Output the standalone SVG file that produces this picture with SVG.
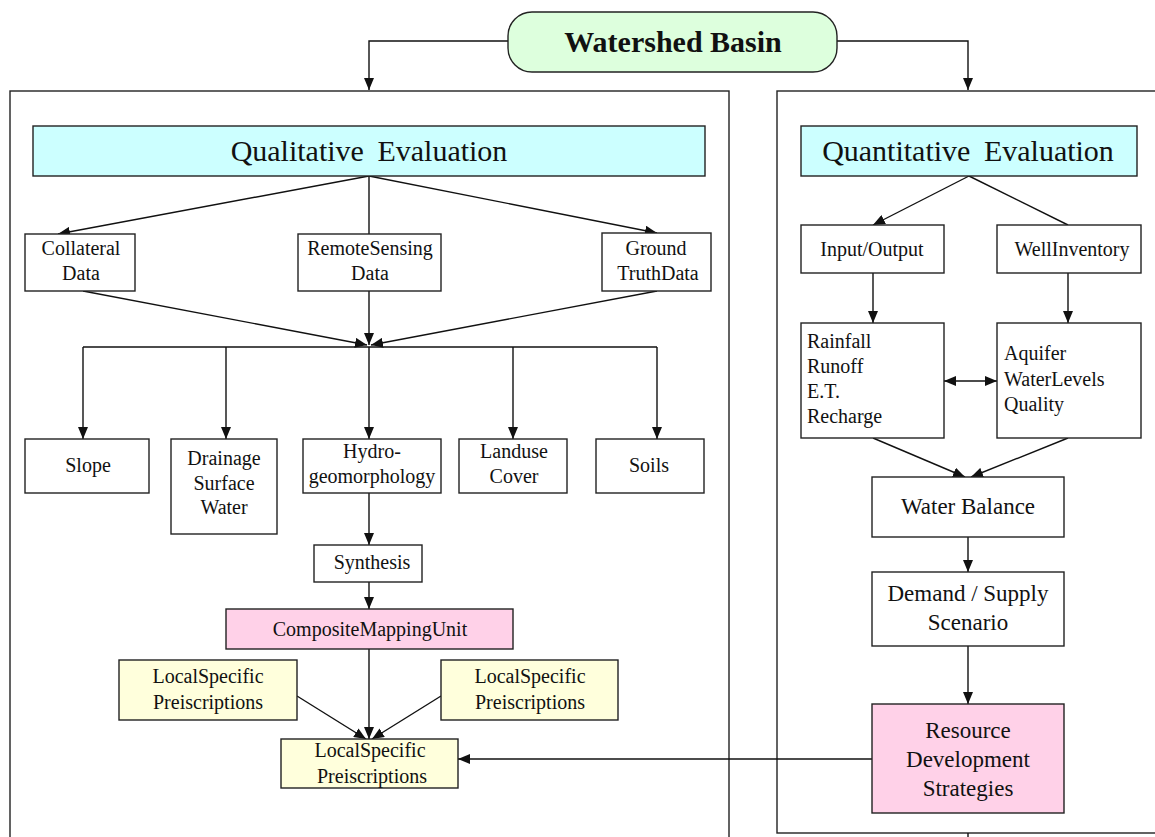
<svg xmlns="http://www.w3.org/2000/svg" width="1155" height="837" viewBox="0 0 1155 837">
<defs>
<marker id="ah" viewBox="0 0 12 10" refX="12" refY="5" markerWidth="12" markerHeight="10" orient="auto-start-reverse" markerUnits="userSpaceOnUse"><path d="M0,0 L12,5 L0,10 z" fill="#111"/></marker>
<style>
rect,path.shape{stroke:#222;stroke-width:1.4}
.box{fill:#fff}
.cyan{fill:#ccffff}
.pink{fill:#ffd1e8}
.yel{fill:#ffffdc}
.panel{fill:none}
text{font-family:"Liberation Serif","Times New Roman",serif;fill:#111}
.t20{font-size:20px;text-anchor:middle}
.t22{font-size:23px;text-anchor:middle}
.tl{font-size:20px;text-anchor:start}
.big{font-size:30px;text-anchor:middle;word-spacing:6px}
#conn path{fill:none;stroke:#111;stroke-width:1.4}
</style>
</defs>
<rect width="1155" height="837" fill="#fff" style="stroke:none"/>
<g id="panels">
<rect class="panel" x="10" y="91" width="719" height="770"/>
<rect class="panel" x="777" y="91" width="400" height="742"/>
</g>
<g id="conn">
<path d="M508,41 H369 V90" marker-end="url(#ah)"/>
<path d="M837,41 H968 V90" marker-end="url(#ah)"/>
<path d="M369,176 L58,234" marker-end="url(#ah)"/>
<path d="M369,176 V234"/>
<path d="M369,176 L657,233" marker-end="url(#ah)"/>
<path d="M83,291 L367,345" marker-end="url(#ah)"/>
<path d="M369,291 V345" marker-end="url(#ah)"/>
<path d="M657,291 L371,345" marker-end="url(#ah)"/>
<path d="M83,347 H657"/>
<path d="M83,347 V439" marker-end="url(#ah)"/>
<path d="M226,347 V439" marker-end="url(#ah)"/>
<path d="M369,347 V439" marker-end="url(#ah)"/>
<path d="M513,347 V439" marker-end="url(#ah)"/>
<path d="M657,347 V439" marker-end="url(#ah)"/>
<path d="M369,493 V545" marker-end="url(#ah)"/>
<path d="M369,582 V609" marker-end="url(#ah)"/>
<path d="M369,649 V739" marker-end="url(#ah)"/>
<path d="M297,696 L366,739" marker-end="url(#ah)"/>
<path d="M441,696 L372,739" marker-end="url(#ah)"/>
<path d="M872,759 H458" marker-end="url(#ah)"/>
<path d="M969,176 L873,225" marker-end="url(#ah)"/>
<path d="M969,176 L1068,225"/>
<path d="M873,273 V323" marker-end="url(#ah)"/>
<path d="M1068,273 V323" marker-end="url(#ah)"/>
<path d="M944,381 H997" marker-start="url(#ah)" marker-end="url(#ah)"/>
<path d="M873,438 L965,477" marker-end="url(#ah)"/>
<path d="M1068,438 L971,477" marker-end="url(#ah)"/>
<path d="M968,537 V572" marker-end="url(#ah)"/>
<path d="M968,646 V704" marker-end="url(#ah)"/>
<path d="M968,833 V837"/>
</g>
<g id="watershed">
<rect x="508" y="12" width="329" height="60" rx="24" ry="24" fill="#ddffdd"/>
<text x="673" y="52" style="font-size:30px;font-weight:bold;text-anchor:middle">Watershed Basin</text>
</g>
<g id="qualitative">
<rect class="cyan" x="33" y="126" width="672" height="50"/>
<text class="big" x="369" y="161">Qualitative Evaluation</text>
</g>
<g id="collateral">
<rect class="box" x="25" y="234" width="110" height="57"/>
<text class="t20" x="81" y="255">Collateral</text>
<text class="t20" x="81" y="280">Data</text>
</g>
<g id="remote">
<rect class="box" x="298" y="234" width="143" height="57"/>
<text class="t20" x="370" y="255">RemoteSensing</text>
<text class="t20" x="370" y="280">Data</text>
</g>
<g id="ground">
<rect class="box" x="602" y="233" width="109" height="58"/>
<text class="t20" x="656" y="255">Ground</text>
<text class="t20" x="658" y="280">TruthData</text>
</g>
<g id="slope">
<rect class="box" x="25" y="439" width="124" height="54"/>
<text class="t20" x="88" y="472">Slope</text>
</g>
<g id="drainage">
<rect class="box" x="171" y="439" width="106" height="95"/>
<text class="t20" x="224" y="465">Drainage</text>
<text class="t20" x="224" y="490">Surface</text>
<text class="t20" x="224" y="514">Water</text>
</g>
<g id="hydro">
<rect class="box" x="303" y="439" width="138" height="54"/>
<text class="t20" x="372" y="458">Hydro-</text>
<text class="t20" x="372" y="483">geomorphology</text>
</g>
<g id="landuse">
<rect class="box" x="459" y="439" width="108" height="54"/>
<text class="t20" x="514" y="458">Landuse</text>
<text class="t20" x="514" y="483">Cover</text>
</g>
<g id="soils">
<rect class="box" x="596" y="439" width="108" height="54"/>
<text class="t20" x="649" y="472">Soils</text>
</g>
<g id="synthesis">
<rect class="box" x="314" y="545" width="108" height="37"/>
<text class="t20" x="372" y="569">Synthesis</text>
</g>
<g id="composite">
<rect class="pink" x="226" y="609" width="287" height="40"/>
<text class="t20" x="370" y="636">CompositeMappingUnit</text>
</g>
<g id="lsp-left">
<rect class="yel" x="119" y="660" width="178" height="60"/>
<text class="t20" x="208" y="683">LocalSpecific</text>
<text class="t20" x="208" y="709">Preiscriptions</text>
</g>
<g id="lsp-right">
<rect class="yel" x="441" y="660" width="177" height="60"/>
<text class="t20" x="530" y="683">LocalSpecific</text>
<text class="t20" x="530" y="709">Preiscriptions</text>
</g>
<g id="lsp-bottom">
<rect class="yel" x="281" y="739" width="177" height="49"/>
<text class="t20" x="370" y="757">LocalSpecific</text>
<text class="t20" x="372" y="783">Preiscriptions</text>
</g>
<g id="quantitative">
<rect class="cyan" x="801" y="126" width="336" height="50"/>
<text class="big" x="968" y="161">Quantitative Evaluation</text>
</g>
<g id="inputoutput">
<rect class="box" x="801" y="225" width="143" height="48"/>
<text class="t20" x="872" y="256">Input/Output</text>
</g>
<g id="wellinventory">
<rect class="box" x="997" y="225" width="144" height="48"/>
<text class="t20" x="1072" y="256">WellInventory</text>
</g>
<g id="rainfall">
<rect class="box" x="801" y="323" width="143" height="115"/>
<text class="tl" x="807" y="348">Rainfall</text>
<text class="tl" x="807" y="373">Runoff</text>
<text class="tl" x="807" y="398">E.T.</text>
<text class="tl" x="807" y="423">Recharge</text>
</g>
<g id="aquifer">
<rect class="box" x="997" y="323" width="144" height="115"/>
<text class="tl" x="1004" y="360">Aquifer</text>
<text class="tl" x="1004" y="386">WaterLevels</text>
<text class="tl" x="1004" y="411">Quality</text>
</g>
<g id="waterbalance">
<rect class="box" x="872" y="477" width="192" height="60"/>
<text class="t22" x="968" y="514">Water Balance</text>
</g>
<g id="demand">
<rect class="box" x="872" y="572" width="192" height="74"/>
<text class="t22" x="968" y="601">Demand / Supply</text>
<text class="t22" x="968" y="630">Scenario</text>
</g>
<g id="resource">
<rect class="pink" x="872" y="704" width="192" height="109"/>
<text class="t22" x="968" y="738">Resource</text>
<text class="t22" x="968" y="767">Development</text>
<text class="t22" x="968" y="796">Strategies</text>
</g>
</svg>
